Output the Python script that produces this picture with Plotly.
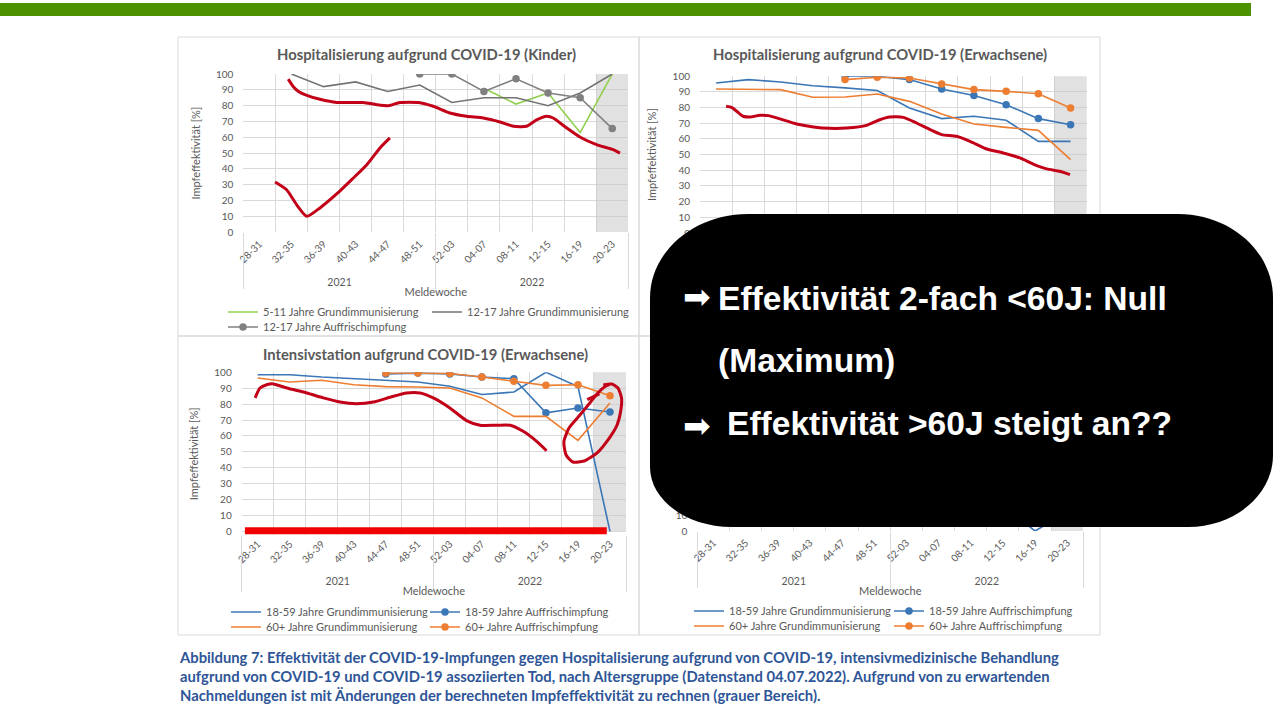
import plotly.graph_objects as go

W, H = 1280, 720

# ---------------- data ----------------
WEEKS = ["28-31", "32-35", "36-39", "40-43", "44-47", "48-51",
         "52-03", "04-07", "08-11", "12-15", "16-19", "20-23"]
YEARS = ["2021", "2022"]
YEAR_CENTER = [2.5, 8.5]
YEAR_EDGES = [-0.5, 5.5, 11.5]
Y_TICKS = [0, 10, 20, 30, 40, 50, 60, 70, 80, 90, 100]
SHADED = [None] * 11 + [100]          # grauer Bereich (Nachmeldungen)

# Hospitalisierung (Kinder)
KIND_5_11_GRUND = [None, None, None, None, None, None, None, 91, 81, 88, 63, 100]
KIND_12_17_GRUND = [None, 100, 92, 95, 89, 93, 82, 85, 85, 80, 88, 100]
KIND_12_17_AUFFR = [None, None, None, None, None, 100, 100, 89, 97, 88, 85, 65.5]

# Hospitalisierung (Erwachsene)
HOSP_18_59_GRUND = [95.7, 97.9, 96.4, 94, 92.6, 90.9, 79.8, 73, 74.5, 71.9, 58.5, 58.5]
HOSP_60_GRUND = [91.9, 91.5, 91.5, 86.6, 86.8, 88.7, 84, 76, 69.6, 67.4, 65.5, 46.8]
HOSP_18_59_AUFFR = [None, None, None, None, 100, 100, 97.9, 91.9, 87.7, 81.9, 73, 69.1]
HOSP_60_AUFFR = [None, None, None, None, 97.9, 99.4, 98.9, 95.1, 91.5, 90.4, 88.9, 79.8]

# Intensivstation (Erwachsene)
ITS_18_59_GRUND = [98.5, 98.5, 97, 96, 94.8, 93.9, 91.2, 86, 87.6, 100, 91, 0]
ITS_60_GRUND = [96.4, 93.9, 95, 92.2, 91, 90.8, 90.1, 83.9, 72.3, 72.3, 57.2, 80.7]
ITS_18_59_AUFFR = [None, None, None, None, 99, 99.5, 99, 97, 96, 74.5, 77.5, 75]
ITS_60_AUFFR = [None, None, None, None, 99.6, 99.6, 99.2, 97, 94.3, 91.8, 92.2, 85.3]

# Tod (panel mostly covered by the overlay box; only this bit is visible)
TOD_18_59_GRUND = [None, None, None, None, None, None, None, None, None, 16, 0, 12]
TOD_18_59_AUFFR = [None] * 12
TOD_60_GRUND = [None] * 12
TOD_60_AUFFR = [None] * 12

# hand-drawn red marks (x in category units)
RED_K1_X = [0.90, 1.06, 1.22, 1.48, 1.89, 2.41, 3.24, 3.66, 4.02, 4.38, 4.96, 5.42, 5.94,
            6.46, 6.98, 7.50, 7.92, 8.33, 8.64, 8.96, 9.16, 9.58, 9.99, 10.51, 11.03, 11.24]
RED_K1_Y = [96.8, 92, 89, 86.5, 84, 82, 82, 80.6, 80, 82, 82, 79.6, 75.4,
            73.3, 72.2, 69.7, 67, 67, 71, 73.3, 72.2, 65.9, 60.2, 55.4, 52.2, 50]
RED_K2_X = [0.49, 0.85, 1.16, 1.48, 1.89, 2.41, 2.93, 3.35, 3.76, 4.07]
RED_K2_Y = [31.8, 26.9, 17.5, 10.1, 15.4, 24.2, 34.3, 42.7, 53.3, 59.6]
RED_H_X = [0.31, 0.48, 0.64, 0.84, 1.05, 1.36, 1.62, 1.98, 2.50, 3.02, 3.53, 4.05, 4.67, 5.08,
           5.39, 5.81, 6.22, 6.64, 7.0, 7.46, 7.88, 8.40, 8.91, 9.43, 9.84, 10.26, 10.67, 10.98]
RED_H_Y = [80.9, 80.2, 77.7, 74.5, 74, 75.1, 74.9, 72.8, 69.6, 67.7, 66.8, 67, 68.7, 72.3,
           74, 73.8, 70.2, 66, 62.8, 61.7, 58.5, 53.6, 51.1, 47.9, 44, 40.9, 39.4, 37.2]
RED_I_X = [-0.08, 0.07, 0.28, 0.49, 0.91, 1.53, 2.05, 2.57, 3.09, 3.61, 4.13,
           4.65, 5.07, 5.48, 6.0, 6.52, 6.94, 7.46, 7.88, 8.29, 8.71, 9.02]
RED_I_Y = [83.9, 90.1, 92.2, 92.7, 90.1, 87, 83.9, 81.3, 80.3, 81.3, 84.3,
           87, 87, 83.9, 77.6, 69.6, 66.7, 66.7, 66.7, 62.9, 56.6, 50.7]
RED_LOOP_X = [10.79, 11.06, 11.25, 11.36, 11.34, 11.22, 11.0, 10.59, 10.19, 9.84, 9.63,
              9.56, 9.72, 10.06, 10.37, 10.62, 10.87, 11.0]
RED_LOOP_Y = [92.1, 92.6, 90.1, 83.8, 76.3, 66.8, 59.3, 49.2, 44.2, 43.6, 48.0,
              56.2, 65.0, 73.1, 80.7, 87.0, 91.4, 92.5]
RED_TICK_X = [10.29, 10.67]
RED_TICK_Y = [82.8, 86.4]
RED_BAR_X = [-0.40, 10.9]
RED_BAR_Y = [0.4, 0.4]

TITLES = ["Hospitalisierung aufgrund COVID-19 (Kinder)",
          "Hospitalisierung aufgrund COVID-19 (Erwachsene)",
          "Intensivstation aufgrund COVID-19 (Erwachsene)"]
Y_TITLE = "Impfeffektivität [%]"
X_TITLE = "Meldewoche"
CAPTION_LINES = [
    "Abbildung 7: Effektivität der COVID-19-Impfungen gegen Hospitalisierung aufgrund von COVID-19, intensivmedizinische Behandlung",
    "aufgrund von COVID-19 und COVID-19 assoziierten Tod, nach Altersgruppe (Datenstand 04.07.2022). Aufgrund von zu erwartenden",
    "Nachmeldungen ist mit Änderungen der berechneten Impfeffektivität zu rechnen (grauer Bereich).",
]
BOX_LINE1 = "Effektivität 2-fach &lt;60J: Null"
BOX_LINE2 = "(Maximum)"
BOX_LINE3 = "Effektivität &gt;60J steigt an??"
ARROW = "➡"

# ---------------- style ----------------
FONT = "Lato"
TXT = "#595959"
GRID = "#d9d9d9"
GREEN = "#92d050"
GREY_G = "#737373"
GREY_A = "#808080"
BLUE = "#3b77b6"
ORANGE = "#ed7d31"
RED = "#c20018"
BAR_RED = "#f00000"


def fx(px):
    return px / W


def fy(py):
    return 1 - py / H


# panel geometry (pixels); covered labels of panels 2/4 are left blank
PANELS = {
    1: dict(x=(243.3, 628.3), y=(74.0, 232.3), yr=[0, 100], std=3, ystd=42,
            ytitle=True, xtitle=True, years=True, ylab_max=100),
    2: dict(x=(700.0, 1086.7), y=(76.3, 233.0), yr=[0, 100], std=3, ystd=42,
            ytitle=True, xtitle=False, years=False, ylab_max=100),
    3: dict(x=(241.7, 626.0), y=(372.3, 535.3), yr=[-2.5, 100], std=0, ystd=38,
            ytitle=True, xtitle=True, years=True, ylab_max=100),
    4: dict(x=(697.3, 1083.3), y=(373.0, 531.0), yr=[0, 100], std=3, ystd=42,
            ytitle=False, xtitle=True, years=True, ylab_max=10),
}


def ax_ids(p):
    s = "" if p == 1 else str(p)
    return "x" + s, "y" + s


def over_id(p):
    return "x" + str(p + 4)


X = list(range(len(WEEKS)))
fig = go.Figure()


def add_line(p, y, name, color, markers=False, legend="legend", showlegend=True, xa=None):
    bxa, ya = ax_ids(p)
    fig.add_trace(go.Scatter(
        x=X, y=y, name=name, mode="lines+markers" if markers else "lines",
        line=dict(color=color, width=1.6), marker=dict(size=7.5, color=color),
        xaxis=xa or bxa, yaxis=ya, legend=legend, showlegend=showlegend, hoverinfo="skip"))


def add_red(p, xs, ys, width=3, color=RED, smooth=True):
    _, ya = ax_ids(p)
    fig.add_trace(go.Scatter(
        x=xs, y=ys, mode="lines", showlegend=False, hoverinfo="skip",
        line=dict(color=color, width=width, shape="spline" if smooth else "linear", smoothing=0.6),
        xaxis=over_id(p), yaxis=ya))


# shading bars
for p in PANELS:
    xa, ya = ax_ids(p)
    fig.add_trace(go.Bar(x=X, y=SHADED, width=1, marker=dict(color="rgba(200,200,200,0.55)", line=dict(width=0)),
                         showlegend=False, hoverinfo="skip", xaxis=xa, yaxis=ya))

# panel 1
add_line(1, KIND_5_11_GRUND, "5-11 Jahre Grundimmunisierung", GREEN, legend="legend")
add_line(1, KIND_12_17_GRUND, "12-17 Jahre Grundimmunisierung", GREY_G, legend="legend")
add_line(1, KIND_12_17_AUFFR, "12-17 Jahre Auffrischimpfung", GREY_A, markers=True, legend="legend2")
add_red(1, RED_K1_X, RED_K1_Y)
add_red(1, RED_K2_X, RED_K2_Y)

# panel 2
add_line(2, HOSP_18_59_GRUND, "18-59 Jahre Grundimmunisierung", BLUE, showlegend=False)
add_line(2, HOSP_18_59_AUFFR, "18-59 Jahre Auffrischimpfung", BLUE, markers=True, showlegend=False)
add_line(2, HOSP_60_GRUND, "60+ Jahre Grundimmunisierung", ORANGE, showlegend=False)
add_line(2, HOSP_60_AUFFR, "60+ Jahre Auffrischimpfung", ORANGE, markers=True, showlegend=False)
add_red(2, RED_H_X, RED_H_Y)

# panel 3
add_line(3, ITS_18_59_GRUND, "18-59 Jahre Grundimmunisierung", BLUE, legend="legend3")
add_line(3, ITS_18_59_AUFFR, "18-59 Jahre Auffrischimpfung", BLUE, markers=True, legend="legend3")
add_line(3, ITS_60_GRUND, "60+ Jahre Grundimmunisierung", ORANGE, legend="legend4")
add_line(3, ITS_60_AUFFR, "60+ Jahre Auffrischimpfung", ORANGE, markers=True, legend="legend4")
add_red(3, RED_I_X, RED_I_Y)
add_red(3, RED_LOOP_X, RED_LOOP_Y)
add_red(3, RED_TICK_X, RED_TICK_Y, smooth=False)
add_red(3, RED_BAR_X, RED_BAR_Y, width=7, color=BAR_RED, smooth=False)

# panel 4 (drawn on its overlay axis so that the year axis is rendered)
add_line(4, TOD_18_59_GRUND, "18-59 Jahre Grundimmunisierung", BLUE, legend="legend5", xa=over_id(4))
add_line(4, TOD_18_59_AUFFR, "18-59 Jahre Auffrischimpfung", BLUE, markers=True, legend="legend5", xa=over_id(4))
add_line(4, TOD_60_GRUND, "60+ Jahre Grundimmunisierung", ORANGE, legend="legend6", xa=over_id(4))
add_line(4, TOD_60_AUFFR, "60+ Jahre Auffrischimpfung", ORANGE, markers=True, legend="legend6", xa=over_id(4))

# ---------------- axes ----------------
layout = {}
tickfont = dict(family=FONT, size=10, color=TXT)
for p, cfg in PANELS.items():
    xa, ya = ax_ids(p)
    xkey = "xaxis" + ("" if p == 1 else str(p))
    ykey = "yaxis" + ("" if p == 1 else str(p))
    xdom = [fx(cfg["x"][0]), fx(cfg["x"][1])]
    ydom = [fy(cfg["y"][1]), fy(cfg["y"][0])]
    layout[xkey] = dict(
        domain=xdom, anchor=ya, range=[-0.5, len(WEEKS) - 0.5], tickmode="array",
        tickvals=X, ticktext=WEEKS, tickangle=-45, ticks="", showgrid=False,
        zeroline=False, showline=False, tickfont=tickfont, automargin=False,
        ticklabelstandoff=cfg["std"], fixedrange=True,
        minor=dict(tickmode="array", tickvals=[i - 0.5 for i in range(len(WEEKS) + 1)],
                   showgrid=True, gridcolor=GRID, gridwidth=1, ticks=""))
    layout[ykey] = dict(
        domain=ydom, anchor=xa, range=cfg["yr"], tickmode="array", tickvals=Y_TICKS,
        ticktext=[str(v) if v <= cfg["ylab_max"] else "" for v in Y_TICKS],
        showgrid=True, gridcolor=GRID, gridwidth=1, zeroline=False, showline=False, ticks="",
        tickfont=tickfont, automargin=False, ticklabelstandoff=9, fixedrange=True,
        title=dict(text=Y_TITLE if cfg["ytitle"] else "", font=dict(family=FONT, size=11, color=TXT), standoff=13))
    okey = "xaxis" + str(p + 4)
    layout[okey] = dict(
        overlaying=xa, anchor=ya, side="bottom", range=[-0.5, len(WEEKS) - 0.5], tickmode="array",
        tickvals=YEAR_CENTER, ticktext=YEARS if cfg["years"] else ["", ""], ticks="",
        showgrid=False, zeroline=False, showline=False,
        tickfont=dict(family=FONT, size=10.5, color=TXT), automargin=False, fixedrange=True,
        ticklabelstandoff=cfg["ystd"],
        minor=dict(tickmode="array", tickvals=YEAR_EDGES, ticks="outside", ticklen=56,
                   tickcolor=GRID, tickwidth=1, showgrid=False),
        title=dict(text=X_TITLE if cfg["xtitle"] else "", font=dict(family=FONT, size=11, color=TXT), standoff=1))

# ---------------- legends ----------------
LEGENDS = {
    "legend": (223, 312, 159), "legend2": (223, 327, 159),
    "legend3": (226, 612, 154), "legend4": (226, 627, 154),
    "legend5": (689, 611, 155), "legend6": (689, 626, 155),
}
for key, (lx, ly, ew) in LEGENDS.items():
    layout[key] = dict(orientation="h", x=fx(lx), y=fy(ly), xanchor="left", yanchor="middle",
                       entrywidth=ew, entrywidthmode="pixels", itemwidth=30,
                       bgcolor="rgba(0,0,0,0)", borderwidth=0, traceorder="normal",
                       font=dict(family=FONT, size=11, color=TXT))

# ---------------- shapes ----------------
shapes = []
shapes.append(dict(type="rect", xref="paper", yref="paper", x0=0, x1=fx(1251), y0=fy(16), y1=fy(3),
                   fillcolor="#4b9100", line=dict(width=0), layer="below"))
for (x0, y0, x1, y1) in [(178, 37, 639, 336), (639, 37, 1100, 336), (178, 336, 639, 635), (639, 336, 1100, 635)]:
    shapes.append(dict(type="rect", xref="paper", yref="paper", x0=fx(x0), x1=fx(x1), y0=fy(y1), y1=fy(y0),
                       line=dict(color=GRID, width=1), fillcolor="rgba(0,0,0,0)", layer="below"))

L, R, T, B = 650, 1273, 214, 527
tlx, tly, trx, try_, brx, bry, blx, bly = 98, 84, 95, 84, 85, 72, 82, 60
k = 0.5523


def P(px, py):
    return f"{fx(px):.5f},{fy(py):.5f}"


path = (f"M{P(L + tlx, T)} L{P(R - trx, T)} "
        f"C{P(R - trx + k * trx, T)} {P(R, T + try_ - k * try_)} {P(R, T + try_)} "
        f"L{P(R, B - bry)} C{P(R, B - bry + k * bry)} {P(R - brx + k * brx, B)} {P(R - brx, B)} "
        f"L{P(L + blx, B)} C{P(L + blx - k * blx, B)} {P(L, B - bly + k * bly)} {P(L, B - bly)} "
        f"L{P(L, T + tly)} C{P(L, T + tly - k * tly)} {P(L + tlx - k * tlx, T)} {P(L + tlx, T)} Z")
shapes.append(dict(type="path", path=path, xref="paper", yref="paper", fillcolor="black",
                   line=dict(width=0), layer="above"))

# ---------------- annotations ----------------
ann = []
for text, cx, cy in [(TITLES[0], 426, 54), (TITLES[1], 880, 54), (TITLES[2], 425, 354)]:
    ann.append(dict(text=f"<b>{text}</b>", x=fx(cx), y=fy(cy), xref="paper", yref="paper",
                    xanchor="center", yanchor="middle", showarrow=False,
                    font=dict(family=FONT, size=14.8, color=TXT)))

ann.append(dict(text="<b>" + "<br>".join(CAPTION_LINES) + "</b>", x=fx(177), y=fy(646),
                xref="paper", yref="paper", xanchor="left", yanchor="top", align="left",
                showarrow=False, font=dict(family=FONT, size=14.8, color="#2e5597")))

BOXFONT = dict(family="Liberation Sans", size=33.6, color="white")
for text, lx, cy in [(BOX_LINE1, 716, 298), (BOX_LINE2, 716, 360), (BOX_LINE3, 725, 423)]:
    ann.append(dict(text=f"<b>{text}</b>", x=fx(lx), y=fy(cy), xref="paper", yref="paper",
                    xanchor="left", yanchor="middle", showarrow=False, font=BOXFONT))
for cy in (296, 425):
    ann.append(dict(text=ARROW, x=fx(681), y=fy(cy), xref="paper", yref="paper",
                    xanchor="left", yanchor="middle", showarrow=False,
                    font=dict(family="DejaVu Sans", size=33, color="white")))

fig.update_layout(
    width=W, height=H, autosize=False, margin=dict(l=0, r=0, t=0, b=0),
    paper_bgcolor="white", plot_bgcolor="rgba(0,0,0,0)",
    font=dict(family=FONT, size=10, color=TXT), barmode="overlay", bargap=0,
    hovermode=False, showlegend=True, shapes=shapes, annotations=ann, **layout)

fig.write_html("out.html", config={"displayModeBar": False, "staticPlot": True},
               post_script="document.body.style.margin='0px';document.body.style.overflow='hidden';")
